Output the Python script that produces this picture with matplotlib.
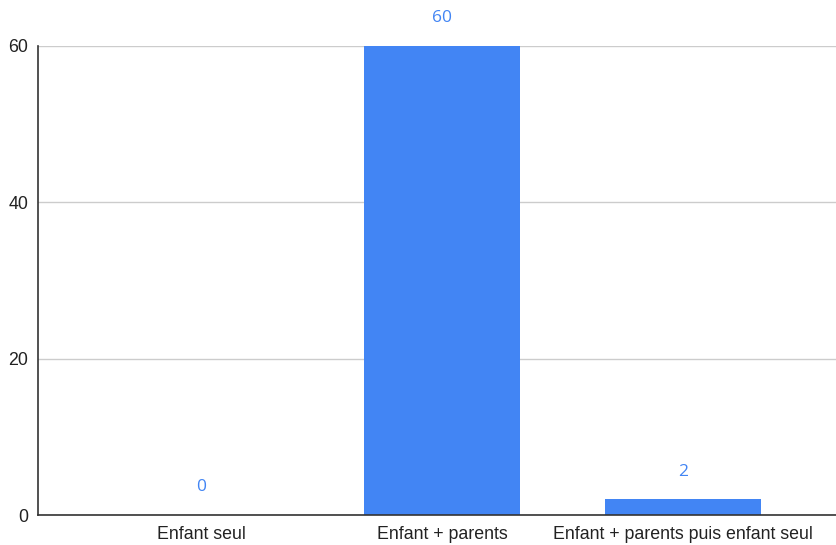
import matplotlib.pyplot as plt
import numpy as np

categories = ['Enfant seul', 'Enfant + parents', 'Enfant + parents puis enfant seul']
values = [0, 60, 2]
yticks = [0, 20, 40, 60]

blue = '#4285F4'

fig = plt.figure(figsize=(8.36, 5.45), dpi=100)
ax = fig.add_axes([0.0455, 0.055, 0.9545, 0.8606])

x = np.arange(len(categories))
bars = ax.bar(x, values, width=0.65, color=blue, zorder=3)

for xi, v in zip(x, values):
    ax.annotate(str(v), (xi, v), xytext=(0, 20), textcoords='offset points',
                ha='center', va='center', color=blue, fontsize=12.5,
                family='Open Sans')

ax.set_xlim(-0.676, 2.635)
ax.set_ylim(0, 60)
ax.set_yticks(yticks)
ax.set_xticks(x)
ax.set_xticklabels(categories)
ax.tick_params(axis='both', length=0, labelsize=12.8, labelcolor='#222222')
ax.tick_params(axis='y', pad=7)
ax.tick_params(axis='x', pad=8)
for lab in ax.get_xticklabels() + ax.get_yticklabels():
    lab.set_family('Liberation Sans')

ax.grid(axis='y', color='#cccccc', linewidth=1, zorder=0)
ax.spines['top'].set_visible(False)
ax.spines['right'].set_visible(False)
ax.spines['left'].set_color('#333333')
ax.spines['bottom'].set_color('#333333')
ax.spines['left'].set_linewidth(1.2)
ax.spines['bottom'].set_linewidth(1.2)
ax.spines['bottom'].set_zorder(4)

fig.savefig('out.png', dpi=100)
